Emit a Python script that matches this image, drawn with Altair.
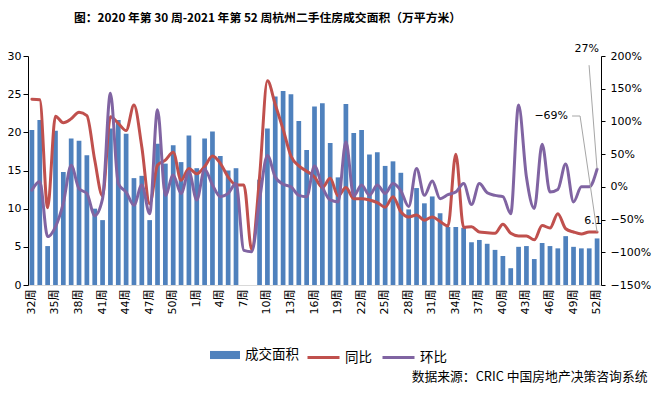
import altair as alt
import pandas as pd

# ---------------- data ----------------
weeks_2020 = list(range(32, 53))
weeks_2021 = list(range(1, 53))

area_2020 = [20.3, 21.6, 5.1, 20.2, 14.8, 19.2, 18.9, 17.0, 10.0, 8.5, 20.5,
             21.6, 19.8, 14.0, 14.3, 8.5, 18.5, 15.9, 18.3, 16.1, 19.6]
area_2021 = [15.3, 19.2, 20.1, 16.9, 15.0, 15.3, None, None, 13.8, 20.5,
             24.7, 25.4, 25.0, 21.5, 17.7, 23.4, 23.8, 18.6, 14.1, 23.7,
             19.9, 20.3, 17.1, 17.4, 15.6, 16.2, 14.7, 9.9, 12.7, 10.7,
             11.6, 9.4, 7.6, 7.6, 7.5, 5.6, 5.9, 5.4, 4.6, 3.8,
             2.2, 5.0, 5.1, 3.4, 5.5, 5.1, 4.8, 6.4, 5.0, 4.8,
             4.8, 6.1]

yoy_2020 = [1.34, 1.33, -0.32, 1.08, 0.98, 1.04, 1.14, 1.09, 0.41, -0.14, 1.07,
            0.97, 0.86, 1.25, 0.61, -0.26, 0.33, 0.41, 0.53, 0.10, 0.28]
yoy_2021 = [0.20, 0.31, 0.47, 0.36, 0.15, 0.03, 0.03, -0.96, 0.15, 1.62,
            1.26, 0.88, 0.47, 0.32, 0.24, 0.15, -0.01, 0.13, -0.14, -0.01,
            -0.18, -0.18, -0.20, -0.24, -0.31, -0.15, -0.38, -0.46, -0.43, -0.51,
            -0.46, -0.53, -0.60, 0.50, -0.62, -0.61, -0.69, -0.70, -0.71, -0.57,
            -0.71, -0.75, -0.75, -0.81, -0.59, -0.63, -0.41, -0.64, -0.69, -0.72,
            -0.69, -0.69]

mom_2020 = [-0.05, 0.08, -0.76, -0.61, -0.25, 0.33, -0.03, -0.10, -0.44, -0.18, 1.43,
            0.05, -0.08, -0.28, 0.03, -0.41, 1.18, -0.13, 0.18, -0.10, 0.23]
mom_2021 = [-0.20, 0.27, 0.03, -0.15, -0.10, 0.05, -0.97, -0.99, -0.20, 0.48,
            0.15, 0.04, 0.00, -0.13, -0.15, 0.32, 0.00, -0.20, -0.23, 0.69,
            -0.14, 0.03, -0.13, 0.03, -0.10, 0.05, -0.06, -0.30, 0.28, -0.13,
            0.09, -0.18, -0.12, -0.08, 0.05, -0.27, 0.05, -0.09, -0.13, -0.15,
            -0.41, 1.25, 0.15, -0.33, 0.65, -0.08, -0.04, 0.35, -0.23, 0.00,
            0.00, 0.27]

keys = [f"2020-{w}" for w in weeks_2020] + [f"2021-{w}" for w in weeks_2021]
df = pd.DataFrame({
    "key": keys,
    "s1": ["成交面积"] * len(keys),
    "area": area_2020 + area_2021,
    "同比": yoy_2020 + yoy_2021,
    "环比": mom_2020 + mom_2021,
})
last_key = keys[-1]

# ---------------- styling ----------------
NUM_FONT = "DejaVu Sans, Noto Sans CJK SC"
CJK_FONT = "Noto Sans CJK SC"
BLUE, RED, PURPLE = "#4F81BD", "#C0504D", "#8064A2"

x_scale = alt.Scale(paddingInner=0.4, paddingOuter=0.2)
x_axis = alt.Axis(
    values=keys[::3],
    labelExpr="split(datum.value, '-')[1] + '周'",
    labelAngle=-90, labelFontSize=11, labelFont=NUM_FONT, labelColor="#000",
    labelPadding=4, ticks=False, domainColor="#d9d9d9", domainWidth=1,
    title="数据来源：CRIC 中国房地产决策咨询系统",
    titleFont=CJK_FONT, titleFontSize=12.8, titleFontWeight="normal",
    titleColor="#000", titleAlign="right", titleBaseline="middle",
    titleX=619, titleY=91,
)
X = alt.X("key:N", sort=keys, scale=x_scale, axis=x_axis)

left_scale = alt.Scale(domain=[0, 30], nice=False)
right_scale = alt.Scale(domain=[-1.5, 2.0], nice=False)

left_axis = alt.Axis(orient="left", values=[0, 5, 10, 15, 20, 25, 30], title=None,
                     grid=False, domainColor="#000", tickColor="#000", tickSize=5,
                     labelPadding=2, labelFontSize=11, labelFont=NUM_FONT,
                     labelColor="#000")
right_axis = alt.Axis(orient="right", values=[-1.5, -1.0, -0.5, 0, 0.5, 1.0, 1.5, 2.0],
                      format=".0%", title=None, grid=False, domainColor="#000",
                      tickColor="#000", tickSize=4, labelPadding=5, labelFontSize=11,
                      labelFont=NUM_FONT, labelColor="#000")


def YL(field):
    return alt.Y(field, scale=left_scale, axis=left_axis, title=None)


def YR(field):
    return alt.Y(field, scale=right_scale, axis=right_axis, title=None)


base = alt.Chart(df)

bars = base.mark_bar(opacity=1).encode(
    x=X,
    y=YL("area:Q"),
    color=alt.Color(
        "s1:N",
        scale=alt.Scale(domain=["成交面积"], range=[BLUE]),
        legend=alt.Legend(
            title=None, orient="none", legendX=182, legendY=284,
            direction="horizontal", symbolType="M-1,-0.27H1V0.27H-1Z",
            symbolSize=900, symbolStrokeWidth=0, labelFont=CJK_FONT,
            labelFontSize=13.5, labelColor="#000", labelOffset=5,
        ),
    ),
)

last = base.transform_filter(alt.datum.key == last_key)

bar_label = last.mark_text(
    align="center", baseline="middle", dx=-4, dy=-17, fontSize=11, font=NUM_FONT,
    color="#000",
).encode(
    x=X,
    y=YL("area:Q"),
    text=alt.Text("area:Q", format=".1f"),
)

lines = base.transform_fold(["同比", "环比"], as_=["series", "value"]).mark_line(
    strokeWidth=3, interpolate="monotone", strokeCap="round", strokeJoin="round"
).encode(
    x=X,
    y=YR("value:Q"),
    color=alt.Color(
        "series:N",
        scale=alt.Scale(domain=["同比", "环比"], range=[RED, PURPLE]),
        legend=alt.Legend(
            title=None, orient="none", legendX=278, legendY=284,
            direction="horizontal", symbolType="stroke", symbolSize=1024,
            symbolStrokeWidth=3, labelFont=CJK_FONT, labelFontSize=13.5,
            labelColor="#000", labelOffset=4, columnPadding=4,
        ),
    ),
)

mom_leader = last.mark_rule(color="#a6a6a6", strokeWidth=1, x2Offset=-8, y2Offset=-104).encode(
    x=X, x2="key:N", y=YR("环比:Q"), y2="环比:Q",
)
yoy_leader = last.mark_rule(color="#a6a6a6", strokeWidth=1, x2Offset=-17, y2Offset=-116).encode(
    x=X, x2="key:N", y=YR("同比:Q"), y2="同比:Q",
)
yoy_leader2 = last.mark_rule(color="#a6a6a6", strokeWidth=1, xOffset=-17, x2Offset=-25,
                             yOffset=-116, y2Offset=-116).encode(
    x=X, x2="key:N", y=YR("同比:Q"), y2="同比:Q",
)
mom_text = last.mark_text(align="right", baseline="middle", dx=2, dy=-120,
                          fontSize=11, font=NUM_FONT, color="#000").encode(
    x=X, y=YR("环比:Q"), text=alt.Text("环比:Q", format=".0%"),
)
yoy_text = last.mark_text(align="right", baseline="middle", dx=-29, dy=-116,
                          fontSize=11, font=NUM_FONT, color="#000").encode(
    x=X, y=YR("同比:Q"), text=alt.Text("同比:Q", format=".0%"),
)

left_layer = alt.layer(bars, bar_label)
right_layer = alt.layer(lines, mom_leader, yoy_leader, yoy_leader2, mom_text, yoy_text)

chart = alt.layer(left_layer, right_layer).resolve_scale(
    y="independent", color="independent"
).properties(
    width=573,
    height=229,
    background="white",
    autosize=alt.AutoSizeParams(type="none"),
    padding={"left": 20, "top": 48, "right": 51, "bottom": 100},
    title=alt.TitleParams(
        "图：2020 年第 30 周-2021 年第 52 周杭州二手住房成交面积（万平方米）",
        font=CJK_FONT, fontSize=11.8, fontWeight="bold", color="#000",
        anchor="middle", frame="group", dx=-47, offset=18,
    ),
).configure_view(stroke=None)

chart.save("out.html", embed_options={"renderer": "svg", "actions": False})
